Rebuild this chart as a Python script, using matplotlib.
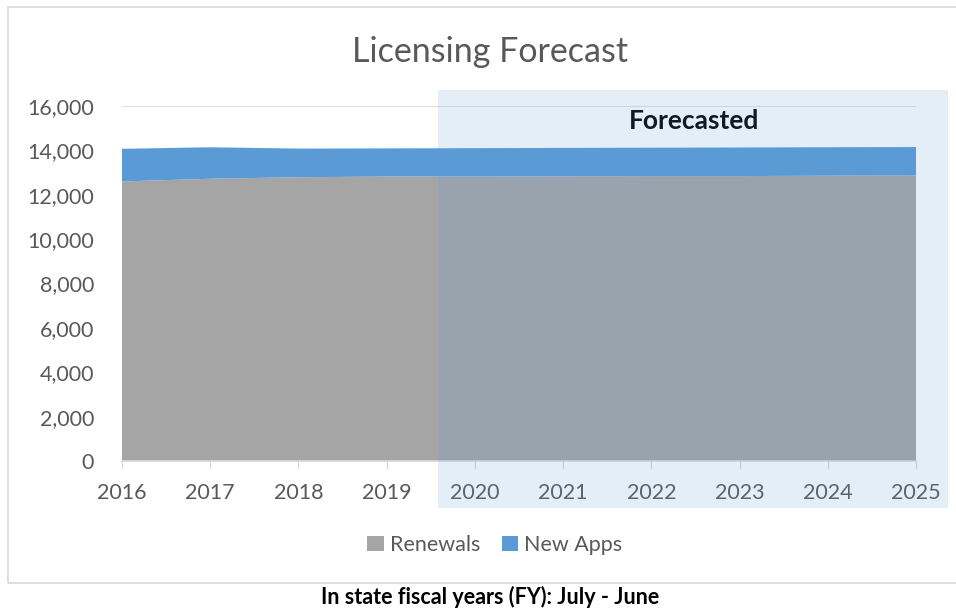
import matplotlib.pyplot as plt
from matplotlib.patches import Rectangle
from matplotlib.ticker import FuncFormatter

years = [2016, 2017, 2018, 2019, 2020, 2021, 2022, 2023, 2024, 2025]
renewals = [12600, 12720, 12790, 12820, 12820, 12830, 12840, 12840, 12860, 12880]
new_apps = [1470, 1420, 1290, 1270, 1280, 1280, 1280, 1290, 1280, 1270]

plt.rcParams['font.family'] = ['Lato', 'DejaVu Sans']

W, H = 956, 609
fig = plt.figure(figsize=(W / 100, H / 100), dpi=100)

# outer chart border
fig.patches.append(Rectangle((8 / W, 1 - 583 / H), 960 / W, (583 - 7) / H,
                             transform=fig.transFigure, fill=False,
                             edgecolor='#D9D9D9', linewidth=1.2))

ax = fig.add_axes([122 / W, 148 / H, (916 - 122) / W, 355 / H])
ax.stackplot(years, renewals, new_apps, colors=['#A5A5A5', '#5B9BD5'],
             labels=['Renewals', 'New Apps'], zorder=2)
ax.set_xlim(2016, 2025)
ax.set_ylim(0, 16000)
ax.set_yticks(range(0, 16001, 2000))
ax.yaxis.set_major_formatter(FuncFormatter(lambda v, p: f'{int(v):,}'))
ax.set_xticks(years)
ax.grid(axis='y', color='#D9D9D9', linewidth=1.2, zorder=0)
for s in ['top', 'right', 'left']:
    ax.spines[s].set_visible(False)
ax.spines['bottom'].set_color('#D9D9D9')
ax.spines['bottom'].set_linewidth(1.2)
ax.tick_params(axis='y', length=0, labelsize=15.5, labelcolor='#595959', pad=20)
ax.tick_params(axis='x', length=6, color='#D9D9D9', labelsize=15.5,
               labelcolor='#595959', pad=10)

fig.text(490 / W, 1 - 52 / H, 'Licensing Forecast', ha='center', va='center',
         fontsize=24.5, color='#595959')
fig.text(694 / W, 1 - 121 / H, 'Forecasted', ha='center', va='center',
         fontsize=19, fontweight='bold', color='black')

leg = fig.legend(loc='center', bbox_to_anchor=(495 / W, 1 - 545 / H), ncol=2,
                 frameon=False, fontsize=15.5, handlelength=0.75,
                 handleheight=0.75, handletextpad=0.3, columnspacing=1.0)
for t in leg.get_texts():
    t.set_color('#595959')

fig.text(490 / W, 1 - 597 / H, 'In state fiscal years (FY): July - June',
         ha='center', va='center', fontsize=15.5, fontweight='bold')

# forecast overlay
fig.patches.append(Rectangle((438 / W, 1 - 508 / H), (948 - 438) / W, (508 - 90) / H,
                             transform=fig.transFigure, facecolor='#5B9BD5',
                             alpha=0.17, edgecolor='none', zorder=10))

fig.savefig('out.png', dpi=100)
